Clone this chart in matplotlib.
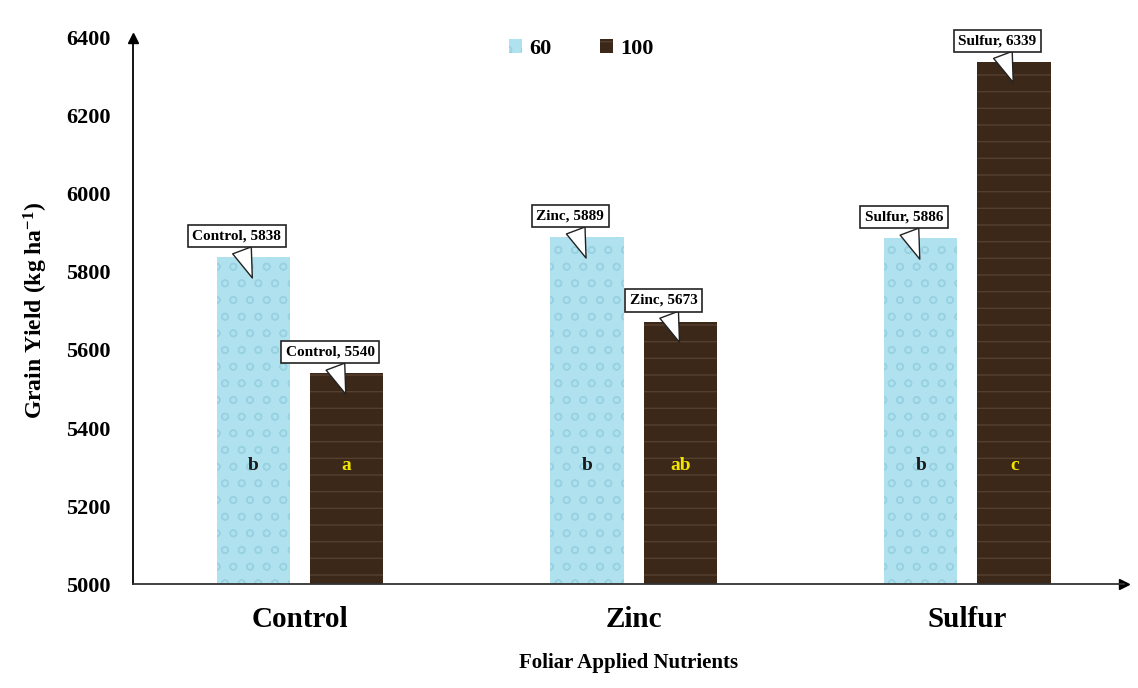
import numpy as np
import matplotlib.pyplot as plt

plt.rcParams['font.family'] = 'Liberation Serif'
plt.rcParams['font.weight'] = 'bold'
plt.rcParams['mathtext.fontset'] = 'custom'
plt.rcParams['mathtext.rm'] = 'Liberation Serif:bold'
plt.rcParams['mathtext.bf'] = 'Liberation Serif:bold'
plt.rcParams['mathtext.default'] = 'bf'
plt.rcParams['hatch.linewidth'] = 1.0

# data
nutrients = ["Control", "Zinc", "Sulfur"]
rates = ["60", "100"]
yield_60 = [5838, 5889, 5886]
yield_100 = [5540, 5673, 6339]
letters_60 = ["b", "b", "b"]
letters_100 = ["a", "ab", "c"]

fig = plt.figure(figsize=(11.38, 6.88), dpi=100)
ax = fig.add_axes([0.117, 0.151, 0.871, 0.794])

x = np.arange(len(nutrients))
w = 0.22
off = 0.14

b1 = ax.bar(x - off, yield_60, w, bottom=0, color="#b0e1ee", edgecolor="#98d2e2",
            hatch="o", linewidth=0, label=rates[0])
b2 = ax.bar(x + off, yield_100, w, bottom=0, color="#3b2819", edgecolor="#554030",
            hatch="-", linewidth=0, label=rates[1])

ax.set_ylim(5000, 6400)
ax.set_xlim(-0.5, 2.47)
ax.set_yticks(np.arange(5000, 6401, 200))
ax.set_xticks(x)
ax.set_xticklabels(nutrients, fontsize=21, fontweight='bold')
ax.tick_params(axis='y', length=0, labelsize=16, pad=16)
ax.tick_params(axis='x', length=0, pad=16)
for t in ax.get_yticklabels():
    t.set_fontweight('bold')

ax.spines['top'].set_visible(False)
ax.spines['right'].set_visible(False)
ax.spines['left'].set_linewidth(1.3)
ax.spines['bottom'].set_linewidth(1.3)
ax.spines['bottom'].set_color('#333333')
ax.plot(0, 1, "^k", ms=7, transform=ax.transAxes, clip_on=False)
ax.plot(1, 0, ">k", ms=7, transform=ax.transAxes, clip_on=False)

ax.set_ylabel(r"Grain Yield (kg ha$^{\mathbf{-1}}$)", fontsize=17, fontweight='bold', labelpad=12)
ax.set_xlabel("Foliar Applied Nutrients", fontsize=15, fontweight='bold', labelpad=14)

# callout labels
callout = dict(boxstyle="square,pad=0.3", fc="white", ec="#222222", lw=1.2)
arrow = dict(arrowstyle="wedge,tail_width=1.3,shrink_factor=0.5", fc="white",
             ec="#222222", lw=1.0)
for bars, vals in [(b1, yield_60), (b2, yield_100)]:
    for i, (bar, v) in enumerate(zip(bars, vals)):
        cx = bar.get_x() + bar.get_width() / 2
        ax.annotate(f"{nutrients[i]}, {v}", xy=(cx, v - 60), xytext=(-12, 32),
                    textcoords="offset points", ha="center", va="center",
                    fontsize=11, fontweight='bold', bbox=callout,
                    arrowprops=arrow, zorder=5)

# significance letters
for i in range(len(nutrients)):
    ax.text(x[i] - off, 5305, letters_60[i], ha="center", va="center",
            fontsize=14, fontweight='bold', color="#1a1a1a")
    ax.text(x[i] + off, 5305, letters_100[i], ha="center", va="center",
            fontsize=14, fontweight='bold', color="#f2e600")

ax.legend(loc="upper center", bbox_to_anchor=(0.452, 1.035), ncol=2, frameon=False,
          fontsize=16, handlelength=0.6, handleheight=0.6, columnspacing=2.2,
          handletextpad=0.3)

plt.savefig("out.png", dpi=100)
